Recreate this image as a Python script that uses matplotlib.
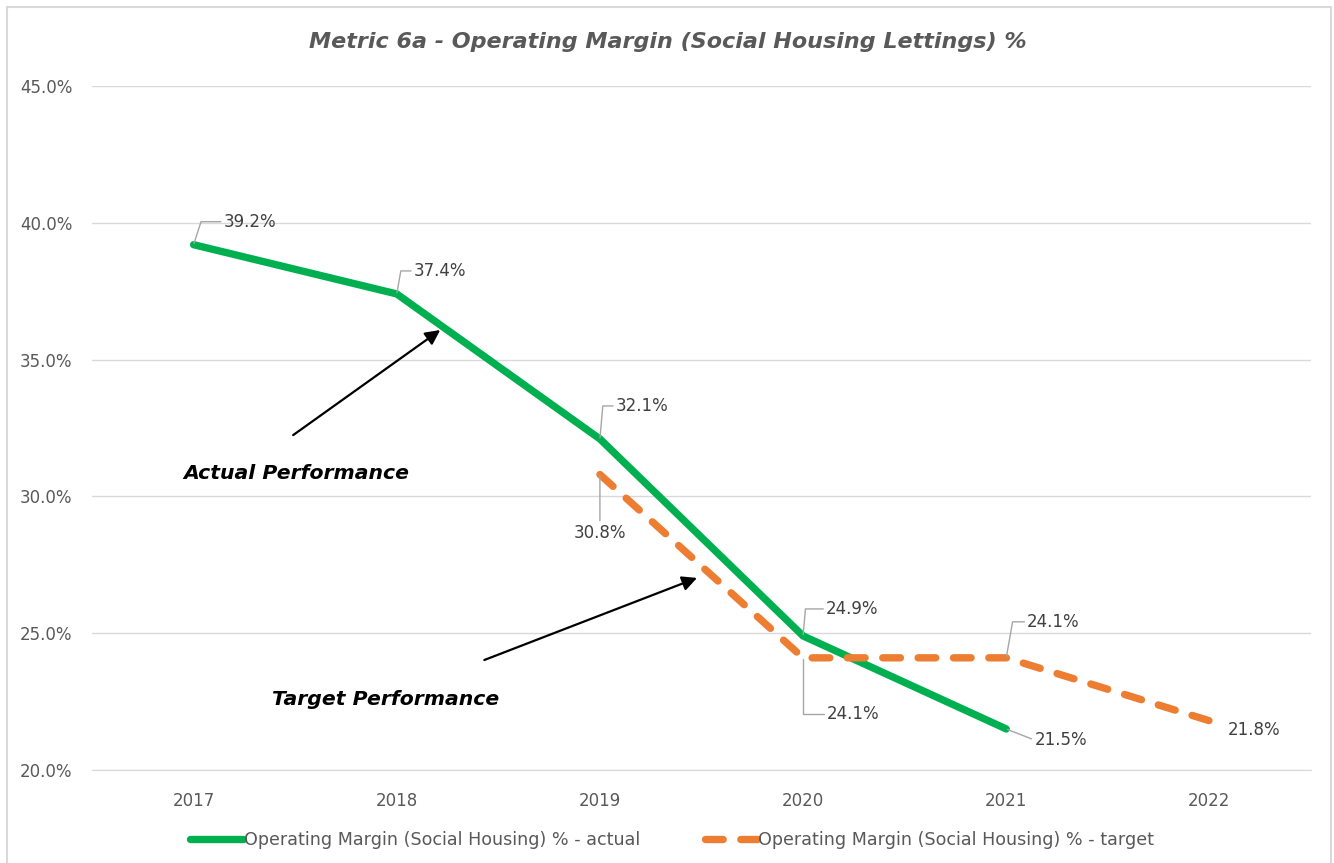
import matplotlib
matplotlib.use("Agg")
import matplotlib.pyplot as plt
from matplotlib.patches import Rectangle
import numpy as np

# ---- data ----
years = ["2017", "2018", "2019", "2020", "2021", "2022"]
actual = [39.2, 37.4, 32.1, 24.9, 21.5, None]
target = [None, None, 30.8, 24.1, 24.1, 21.8]
yticks = [20, 25, 30, 35, 40, 45]
actual_name = "Operating Margin (Social Housing) % - actual"
target_name = "Operating Margin (Social Housing) % - target"
title = "Metric 6a - Operating Margin (Social Housing Lettings) %"

GREEN, ORANGE = "#00B050", "#ED7D31"
GRID, TXT, LABEL, LEADER = "#D9D9D9", "#595959", "#404040", "#A6A6A6"

plt.rcParams.update({"font.family": "DejaVu Sans"})

W, H = 1334, 863
fig = plt.figure(figsize=(W / 100, H / 100), dpi=100)
ax = fig.add_axes([92 / W, 1 - 770 / H, (1311 - 92) / W, (770 - 86) / H])

x = np.arange(len(years))
act = np.array([np.nan if v is None else v for v in actual])
tgt = np.array([np.nan if v is None else v for v in target])

ax.plot(x, act, color=GREEN, lw=5.3, solid_capstyle="round", solid_joinstyle="round",
        label=actual_name, zorder=3)
ax.plot(x, tgt, color=ORANGE, lw=5.3, ls=(0, (2.4, 2.4)), dash_capstyle="round",
        dash_joinstyle="round", label=target_name, zorder=3)

ax.set_xlim(-0.5, len(years) - 0.5)
ax.set_ylim(20, 45)
ax.set_xticks(x)
ax.set_xticklabels(years)
ax.set_yticks(yticks)
ax.set_yticklabels([f"{v:.1f}%" for v in yticks])
ax.tick_params(axis="y", length=0, pad=14, labelsize=12, labelcolor=TXT)
ax.tick_params(axis="x", length=0, pad=16, labelsize=12, labelcolor=TXT)
for s in ("top", "right", "left"):
    ax.spines[s].set_visible(False)
ax.spines["bottom"].set_color(GRID)
ax.yaxis.grid(True, color=GRID, lw=1)
ax.set_axisbelow(True)

# data labels: (dx, dy) pixel offsets, leader angle (None = straight, False = no leader)
act_lab = {0: (30, 23, 72), 1: (17, 23, 80), 2: (16, 33, 85), 3: (23, 27, 85), 4: (28, -11, None)}
tgt_lab = {2: (0, -58, None), 3: (24, -56, 90), 4: (21, 36, 80), 5: (18, -9, False)}


def put_labels(vals, labs):
    for i, (dx, dy, ang) in labs.items():
        v = vals[i]
        centred = dx == 0
        ap = None
        if ang is not False:
            cs = "arc3" if ang is None else f"angle,angleA=0,angleB={ang},rad=0"
            ap = dict(arrowstyle="-", color=LEADER, lw=1, shrinkA=0, shrinkB=1,
                      connectionstyle=cs, relpos=(0.5, 1) if centred else (0, 0.5))
        ax.annotate(f"{v:.1f}%", xy=(i, v), xytext=(dx, dy), textcoords="offset pixels",
                    ha="center" if centred else "left", va="center", fontsize=12,
                    color=LABEL, arrowprops=ap, zorder=4)


put_labels(actual, act_lab)
put_labels(target, tgt_lab)

# callout arrows
arrow = dict(arrowstyle="-|>", color="black", lw=1.6, mutation_scale=22, shrinkA=0, shrinkB=0)
ax.annotate("", xy=(1.214, 36.08), xytext=(0.49, 32.24), arrowprops=arrow)
ax.annotate("", xy=(2.478, 27.02), xytext=(1.431, 24.02), arrowprops=arrow)
ax.text(0.507, 30.82, "Actual Performance", fontsize=14.7, fontweight="bold",
        fontstyle="italic", ha="center", va="center")
ax.text(0.944, 22.56, "Target Performance", fontsize=14.7, fontweight="bold",
        fontstyle="italic", ha="center", va="center")

fig.text(668 / W, 1 - 42 / H, title, fontsize=16, fontweight="bold", fontstyle="italic",
         color=TXT, ha="center", va="center")

h, l = ax.get_legend_handles_labels()
fig.legend(h, l, loc="center", bbox_to_anchor=(672 / W, 1 - 840 / H), ncol=2,
           frameon=False, fontsize=12.6, labelcolor=TXT, handlelength=3.0,
           handletextpad=0.05, columnspacing=3.7)

# chart frame (bottom edge falls outside the picture)
fig.add_artist(Rectangle((7 / W, -10 / H), (1331 - 7) / W, (H + 10 - 7) / H,
                         transform=fig.transFigure, fill=False, edgecolor=GRID, lw=1.5))

fig.savefig("out.png", dpi=100)
